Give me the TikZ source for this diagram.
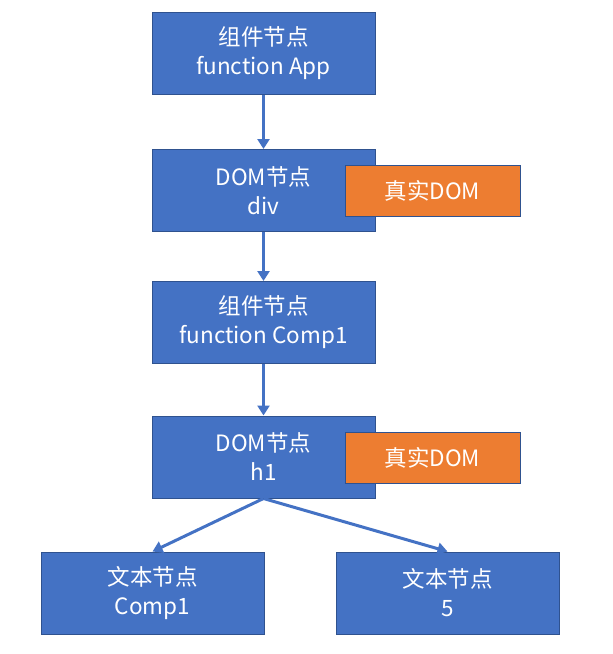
\documentclass[tikz,border=0pt]{standalone}
\usepackage{fontspec}
\setmainfont{Noto Sans CJK SC}
\definecolor{boxblue}{HTML}{4472C4}
\definecolor{edgeblue}{HTML}{2F528F}
\definecolor{realorange}{HTML}{ED7D31}
\usetikzlibrary{arrows.meta,positioning}

\begin{document}
\begin{tikzpicture}[
  x=1pt,y=-1pt,
  every node/.style={font=\fontsize{22.5}{29}\selectfont,text=white},
  nodebox/.style={draw=edgeblue,fill=boxblue,line width=1pt,minimum width=223pt,
                  minimum height=82pt,align=center,inner sep=0pt},
  realbox/.style={draw=edgeblue,fill=realorange,line width=1pt,minimum width=175pt,
                  minimum height=51pt,align=center,inner sep=0pt},
  link/.style={-{Triangle[length=10pt,width=12pt]},line width=3pt,boxblue},
]
  \useasboundingbox (0,0) rectangle (613,654);

  % Component and DOM chain
  \node[nodebox] (app) at (263.5,53) {组件节点\\function App};
  \node[nodebox] (div) at (263.5,190.5) {DOM节点\\div};
  \node[nodebox] (comp) at (263.5,322.5) {组件节点\\function Comp1};
  \node[nodebox] (hone) at (263.5,457) {DOM节点\\h1};

  % Text nodes
  \node[nodebox] (txta) at (152.5,593) {文本节点\\Comp1};
  \node[nodebox] (txtb) at (447.5,593) {文本节点\\5};

  % Real DOM tags
  \node[realbox] (reala) at (432.5,190.5) {真实DOM};
  \node[realbox] (realb) at (432.5,457.5) {真实DOM};

  % Arrows
  \draw[link] (app.south) -- (div.north);
  \draw[link] (div.south) -- (comp.north);
  \draw[link] (comp.south) -- (hone.north);
  \draw[link] (hone.south) -- (txta.north);
  \draw[link] (hone.south) -- (txtb.north);
\end{tikzpicture}
\end{document}
